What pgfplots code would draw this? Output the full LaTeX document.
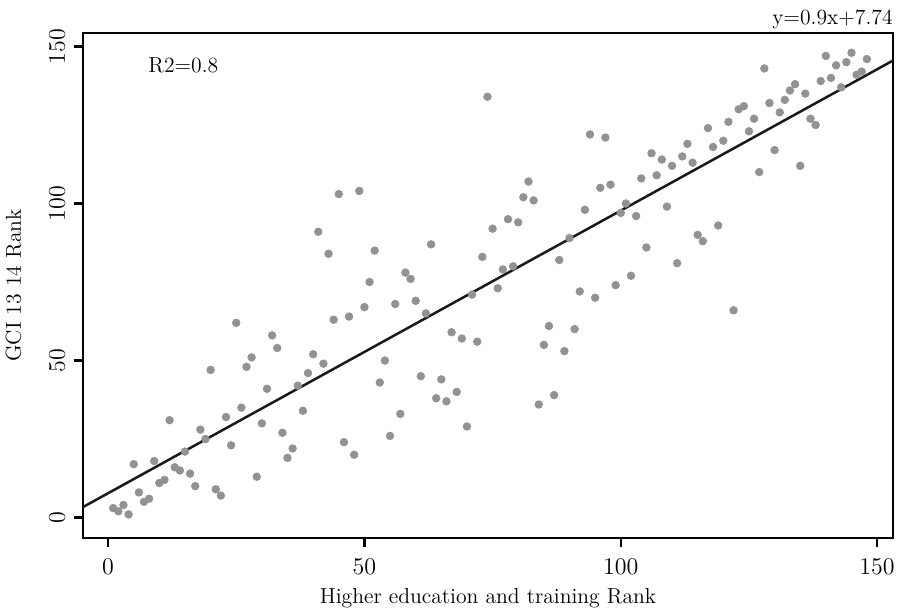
\documentclass[border=0pt]{standalone}
\usepackage{pgfplots}
\pgfplotsset{compat=1.18}
\usepackage{pgfplotstable}

\definecolor{dotgray}{RGB}{145,145,150}

% rank pairs: higher education rank (x), GCI rank (y)
\pgfplotstableread{
x y
1 3
2 2
3 4
4 1
5 17
6 8
7 5
8 6
9 18
10 11
11 12
12 31
13 16
14 15
15 21
16 14
17 10
18 28
19 25
20 47
21 9
22 7
23 32
24 23
25 62
26 35
27 48
28 51
29 13
30 30
31 41
32 58
33 54
34 27
35 19
36 22
37 42
38 34
39 46
40 52
41 91
42 49
43 84
44 63
45 103
46 24
47 64
48 20
49 104
50 67
51 75
52 85
53 43
54 50
55 26
56 68
57 33
58 78
59 76
60 69
61 45
62 65
63 87
64 38
65 44
66 37
67 59
68 40
69 57
70 29
71 71
72 56
73 83
74 134
75 92
76 73
77 79
78 95
79 80
80 94
81 102
82 107
83 101
84 36
85 55
86 61
87 39
88 82
89 53
90 89
91 60
92 72
93 98
94 122
95 70
96 105
97 121
98 106
99 74
100 97
101 100
102 77
103 96
104 108
105 86
106 116
107 109
108 114
109 99
110 112
111 81
112 115
113 119
114 113
115 90
116 88
117 124
118 118
119 93
120 120
121 126
122 66
123 130
124 131
125 123
126 127
127 110
128 143
129 132
130 117
131 129
132 133
133 136
134 138
135 112
136 135
137 127
138 125
139 139
140 147
141 140
142 144
143 137
144 145
145 148
146 141
147 142
148 146
}\ranks

\begin{document}
\begin{tikzpicture}[font=\fontsize{13}{15}\selectfont]
\begin{axis}[
    scale only axis,
    width=486pt,
    height=303pt,
    xmin=-4.88, xmax=153.1,
    ymin=-6.5, ymax=154.3,
    xtick={0,50,100,150},
    ytick={0,50,100,150},
    tick align=outside,
    major tick length=5.4pt,
    axis line style={line width=1.3pt},
    every tick/.style={black, line width=1.3pt},
    xtick pos=bottom,
    ytick pos=left,
    tick label style={font=\fontsize{13.5}{15}\selectfont},
    label style={font=\fontsize{13}{15}\selectfont},
    yticklabel style={rotate=90, anchor=south, yshift=2pt},
    xticklabel style={yshift=-4pt},
    xlabel={Higher education and training Rank},
    ylabel={GCI 13 14 Rank},
    xlabel style={yshift=-1pt},
    ylabel style={yshift=10pt},
    clip=false,
]

\addplot[only marks, mark=*, mark size=2.3pt, color=dotgray] table[x=x, y=y] {\ranks};

% fitted line y = 0.9x + 7.74
\addplot[black!90, line width=1.5pt] coordinates {(-4.88, 3.348) (153.1, 145.53)};

\node[anchor=west, inner sep=0pt] at (axis cs:7.8,144) {R2=0.8};
\node[anchor=base east, inner sep=0pt] at ([yshift=5pt]rel axis cs:1,1) {y=0.9x+7.74};

\coordinate (bl) at (rel axis cs:0,0);
\coordinate (tr) at (rel axis cs:1,1);
\end{axis}
\path (bl) ++(-49.8pt,-42.6pt);
\path (tr) ++(6pt,19.8pt);
\end{tikzpicture}
\end{document}
